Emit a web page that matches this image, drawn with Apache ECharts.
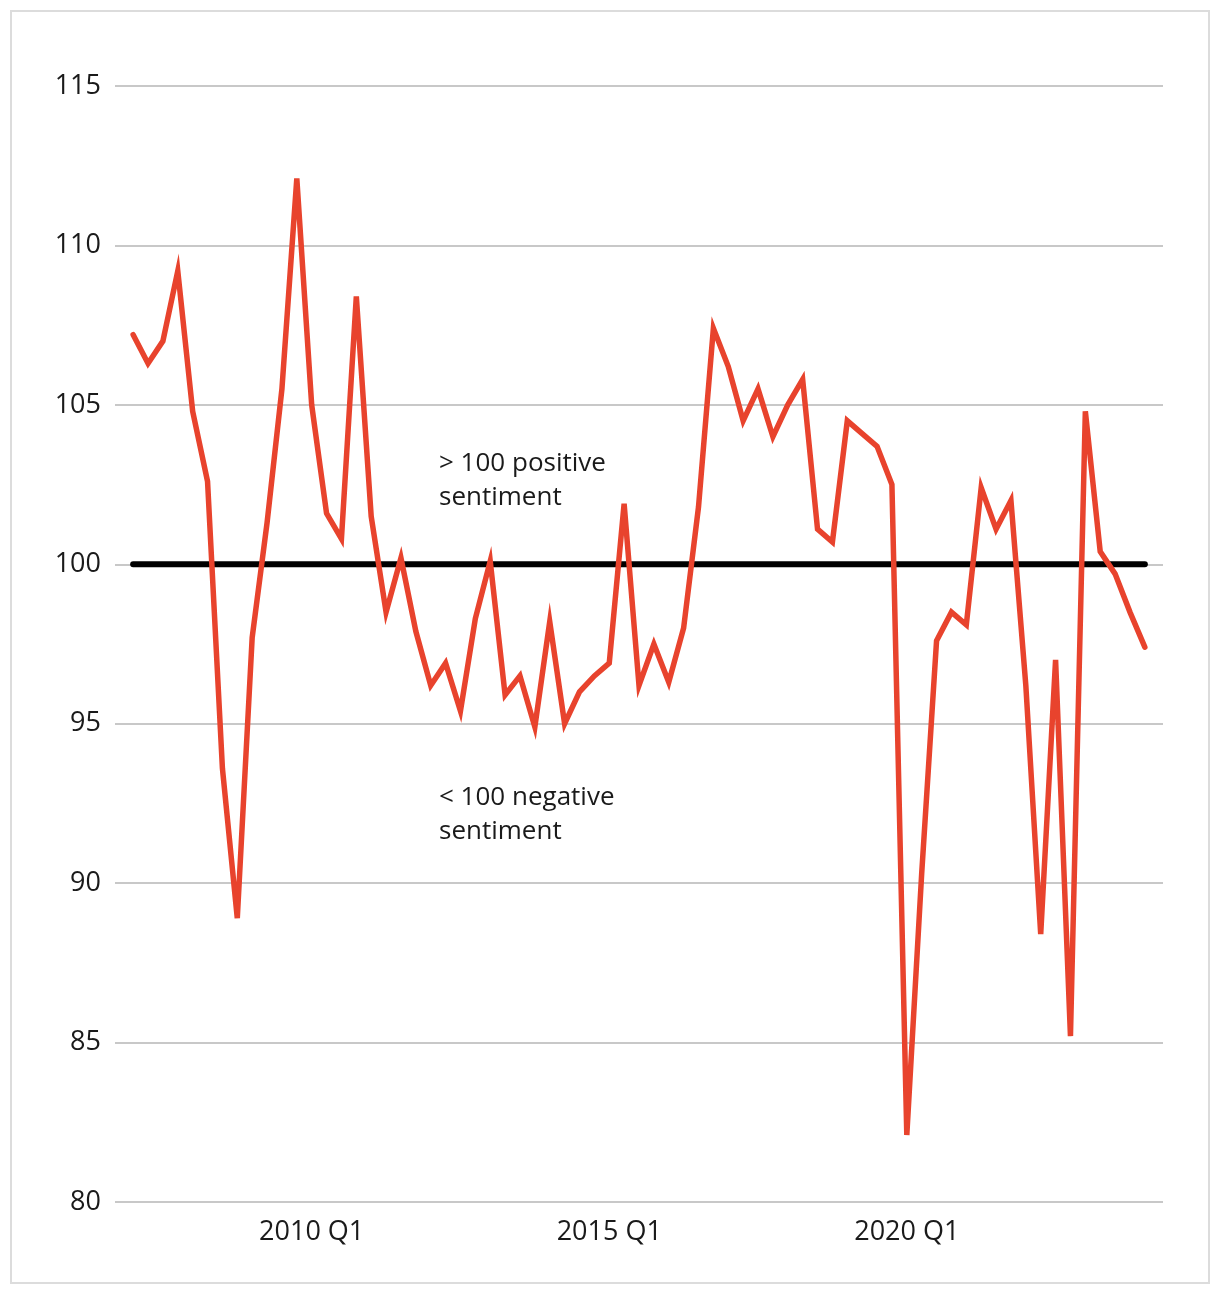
<!DOCTYPE html>
<html>
<head>
<meta charset="utf-8">
<script src="https://cdn.jsdelivr.net/npm/echarts@6/dist/echarts.min.js"></script>
<style>
  html, body { margin: 0; padding: 0; background: #ffffff; }
  #chart { width: 1220px; height: 1294px; }
</style>
</head>
<body>
<div id="chart"></div>
<script>
// Quarterly categories, 2007 Q1 .. 2024 Q1
const quarters = [
  '2007 Q1','2007 Q2','2007 Q3','2007 Q4',
  '2008 Q1','2008 Q2','2008 Q3','2008 Q4',
  '2009 Q1','2009 Q2','2009 Q3','2009 Q4',
  '2010 Q1','2010 Q2','2010 Q3','2010 Q4',
  '2011 Q1','2011 Q2','2011 Q3','2011 Q4',
  '2012 Q1','2012 Q2','2012 Q3','2012 Q4',
  '2013 Q1','2013 Q2','2013 Q3','2013 Q4',
  '2014 Q1','2014 Q2','2014 Q3','2014 Q4',
  '2015 Q1','2015 Q2','2015 Q3','2015 Q4',
  '2016 Q1','2016 Q2','2016 Q3','2016 Q4',
  '2017 Q1','2017 Q2','2017 Q3','2017 Q4',
  '2018 Q1','2018 Q2','2018 Q3','2018 Q4',
  '2019 Q1','2019 Q2','2019 Q3','2019 Q4',
  '2020 Q1','2020 Q2','2020 Q3','2020 Q4',
  '2021 Q1','2021 Q2','2021 Q3','2021 Q4',
  '2022 Q1','2022 Q2','2022 Q3','2022 Q4',
  '2023 Q1','2023 Q2','2023 Q3','2023 Q4',
  '2024 Q1'
];

// Sentiment index values
const sentiment = [
  107.2, 106.3, 107.0, 109.2, 104.8, 102.6, 93.6, 88.9, 97.7, 101.3,
  105.5, 112.1, 105.0, 101.6, 100.8, 108.4, 101.5, 98.5, 100.2, 97.9,
  96.2, 96.9, 95.4, 98.3, 100.1, 95.9, 96.5, 94.9, 98.2, 95.0,
  96.0, 96.5, 96.9, 101.9, 96.2, 97.5, 96.3, 98.0, 101.8, 107.4,
  106.2, 104.5, 105.5, 104.0, 105.0, 105.8, 101.1, 100.7, 104.5, 104.1,
  103.7, 102.5, 82.1, 90.3, 97.6, 98.5, 98.1, 102.4, 101.1, 102.0,
  96.2, 88.4, 97.0, 85.2, 104.8, 100.4, 99.7, 98.5, 97.4
];

const neutralLevel = 100;
const xTickLabels = ['2010 Q1', '2015 Q1', '2020 Q1'];
const yTicks = [80, 85, 90, 95, 100, 105, 110, 115];
const annotations = ['> 100 positive\nsentiment', '< 100 negative\nsentiment'];

const FONT = '"Open Sans", "Noto Sans", sans-serif';
const TEXT = '#1a1a1a';

const chart = echarts.init(document.getElementById('chart'), null, { renderer: 'canvas' });

const sentimentData = sentiment.map((v, i) => [i, v]);
const neutralData = [[0, neutralLevel], [sentiment.length - 1, neutralLevel]];

const option = {
  backgroundColor: '#ffffff',
  animation: false,
  grid: { left: 115, right: 57, top: 86, bottom: 92, containLabel: false },
  xAxis: {
    type: 'value',
    min: -1.22,
    max: quarters.length - 1 + 1.22,
    axisLine: { show: false },
    axisTick: { show: false },
    splitLine: { show: false },
    axisLabel: {
      customValues: xTickLabels.map(l => quarters.indexOf(l)),
      formatter: v => quarters[Math.round(v)] || '',
      fontFamily: FONT,
      fontSize: 27,
      color: TEXT,
      margin: 17
    }
  },
  yAxis: {
    type: 'value',
    min: yTicks[0],
    max: yTicks[yTicks.length - 1],
    interval: 5,
    axisLine: { show: false },
    axisTick: { show: false },
    splitLine: { show: true, lineStyle: { color: '#c8c8c8', width: 2 } },
    axisLabel: {
      fontFamily: FONT,
      fontSize: 27,
      color: TEXT,
      margin: 14
    }
  },
  series: [
    {
      name: 'Neutral',
      type: 'line',
      data: neutralData,
      symbol: 'none',
      silent: true,
      z: 1,
      lineStyle: { color: '#000000', width: 6, cap: 'round' }
    },
    {
      name: 'Sentiment',
      type: 'line',
      data: sentimentData,
      symbol: 'none',
      z: 2,
      lineStyle: { color: '#E8432D', width: 5.5, cap: 'round', join: 'miter' }
    }
  ],
  graphic: [
    {
      type: 'rect',
      shape: { x: 11, y: 11, width: 1198, height: 1272 },
      style: { fill: 'none', stroke: '#dcdcdc', lineWidth: 2 },
      silent: true
    },
    {
      type: 'text',
      left: 439,
      top: 447,
      style: { text: annotations[0], font: '26px ' + FONT, fill: TEXT, lineHeight: 34 }
    },
    {
      type: 'text',
      left: 439,
      top: 781,
      style: { text: annotations[1], font: '26px ' + FONT, fill: TEXT, lineHeight: 34 }
    }
  ]
};

chart.setOption(option);
</script>
</body>
</html>
